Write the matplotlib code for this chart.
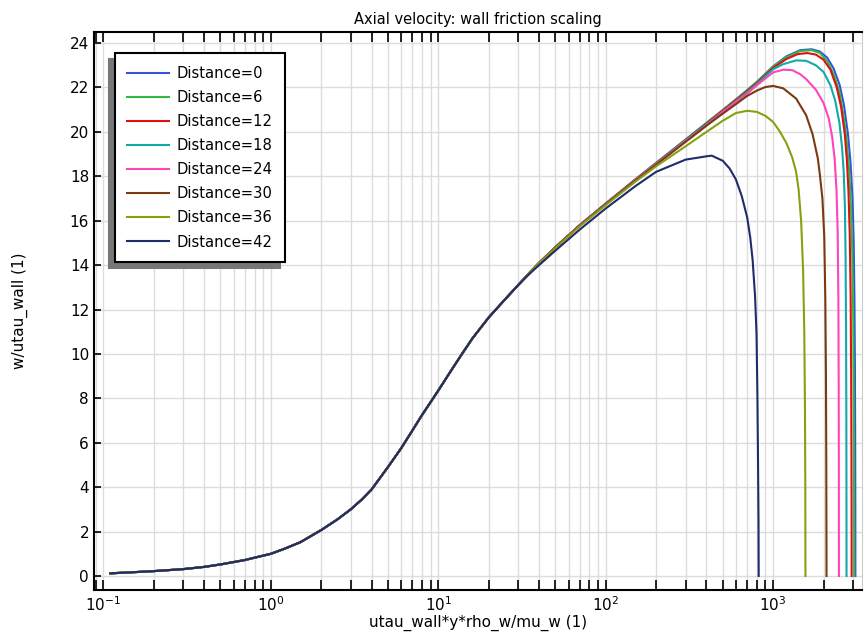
import matplotlib
matplotlib.use("Agg")
import matplotlib.pyplot as plt
from matplotlib.ticker import LogLocator, NullFormatter

# shared near-wall part of all profiles
x_base = [0.11, 0.15, 0.2, 0.3, 0.4, 0.5, 0.7, 1.0, 1.2, 1.5, 2.0, 2.5, 3.0, 3.5, 4.0, 5.0, 6.0, 7.0, 8.0,
          10, 12, 14, 16, 20, 25, 30]
y_base = [0.12, 0.17, 0.22, 0.31, 0.41, 0.52, 0.72, 1.0, 1.22, 1.52, 2.07, 2.55, 3.0, 3.45, 3.9, 4.9, 5.75, 6.55, 7.25,
          8.35, 9.28, 10.05, 10.7, 11.64, 12.45, 13.1]

labels = ["Distance=0", "Distance=6", "Distance=12", "Distance=18",
          "Distance=24", "Distance=30", "Distance=36", "Distance=42"]
colors = ["#3355dd", "#33b844", "#dd1111", "#11aaaa",
          "#ff44bb", "#7a3a10", "#88a010", "#1d2d6b"]

# outer parts of each profile
x_tail = [
    [35, 40, 50, 70, 100, 150, 200, 300, 400, 500, 600, 700, 800, 1000, 1200, 1450, 1700, 1900, 2100, 2300, 2500,
     2650, 2800, 2900, 2980, 3030, 3060, 3080, 3092, 3098, 3100],
    [35, 40, 50, 70, 100, 150, 200, 300, 400, 500, 600, 700, 800, 1000, 1200, 1450, 1700, 1900, 2100, 2300, 2490,
     2650, 2750, 2850, 2920, 2970, 3010, 3032, 3043, 3048, 3050],
    [35, 40, 50, 70, 100, 150, 200, 300, 400, 500, 600, 700, 800, 1000, 1200, 1400, 1600, 1800, 2000, 2200, 2400,
     2550, 2680, 2760, 2820, 2870, 2905, 2925, 2937, 2943, 2945],
    [35, 40, 50, 70, 100, 150, 200, 300, 400, 500, 600, 700, 800, 1000, 1150, 1372, 1575, 1800, 2000, 2200, 2350,
     2490, 2580, 2640, 2685, 2710, 2727, 2737, 2742, 2745],
    [35, 40, 50, 70, 100, 150, 200, 300, 400, 500, 600, 700, 800, 1000, 1150, 1300, 1450, 1575, 1800, 2000, 2150,
     2250, 2330, 2390, 2430, 2453, 2465, 2470, 2472],
    [35, 40, 50, 70, 100, 150, 200, 300, 400, 500, 600, 700, 800, 900, 1000, 1150, 1372, 1575, 1720, 1850, 1900,
     1970, 2020, 2050, 2068, 2078, 2085],
    [35, 40, 50, 70, 100, 150, 200, 300, 400, 500, 600, 700, 800, 900, 1000, 1100, 1200, 1300, 1372, 1420, 1470,
     1510, 1535, 1550, 1557, 1560],
    [35, 40, 50, 70, 100, 150, 200, 300, 400, 430, 500, 550, 600, 650, 700, 730, 755, 780, 796, 806, 813, 818, 820],
]
y_tail = [
    [13.65, 14.1, 14.8, 15.8, 16.77, 17.85, 18.6, 19.65, 20.4, 20.98, 21.46, 21.88, 22.25, 22.95, 23.4, 23.68,
     23.72, 23.62, 23.35, 22.85, 22.1, 21.2, 19.9, 18.6, 17.0, 15.0, 12.5, 9.5, 6.0, 3.0, 0.0],
    [13.65, 14.1, 14.8, 15.8, 16.77, 17.85, 18.6, 19.65, 20.4, 20.98, 21.46, 21.88, 22.25, 22.93, 23.36, 23.64,
     23.68, 23.55, 23.2, 22.6, 21.8, 20.6, 19.6, 18.2, 16.6, 14.5, 11.5, 8.0, 4.5, 2.0, 0.0],
    [13.65, 14.1, 14.8, 15.8, 16.76, 17.84, 18.58, 19.63, 20.37, 20.95, 21.43, 21.84, 22.2, 22.88, 23.28, 23.5,
     23.55, 23.48, 23.25, 22.8, 22.0, 21.1, 19.9, 18.7, 17.3, 15.3, 12.5, 9.0, 5.5, 2.5, 0.0],
    [13.65, 14.1, 14.8, 15.8, 16.76, 17.83, 18.57, 19.61, 20.34, 20.9, 21.38, 21.78, 22.15, 22.82, 23.05, 23.22,
     23.2, 23.0, 22.7, 22.1, 21.4, 20.4, 19.3, 18.2, 16.6, 14.3, 11.0, 7.5, 4.0, 0.0],
    [13.65, 14.1, 14.8, 15.8, 16.75, 17.82, 18.55, 19.58, 20.3, 20.9, 21.35, 21.72, 22.1, 22.68, 22.8, 22.78,
     22.6, 22.38, 21.9, 21.3, 20.6, 19.8, 18.8, 17.4, 15.5, 12.5, 8.5, 4.5, 0.0],
    [13.65, 14.1, 14.8, 15.78, 16.74, 17.8, 18.52, 19.55, 20.28, 20.82, 21.25, 21.62, 21.86, 22.02, 22.07, 21.96,
     21.5, 20.75, 19.9, 18.8, 18.1, 17.0, 15.3, 12.5, 9.0, 5.0, 0.0],
    [13.64, 14.08, 14.77, 15.75, 16.7, 17.75, 18.45, 19.35, 20.0, 20.5, 20.85, 20.95, 20.9, 20.72, 20.45, 20.0,
     19.5, 18.85, 18.2, 17.4, 16.0, 13.8, 11.0, 7.5, 4.0, 0.0],
    [13.6, 14.0, 14.65, 15.6, 16.55, 17.55, 18.2, 18.75, 18.9, 18.93, 18.7, 18.35, 17.85, 17.1, 16.15, 15.25,
     14.2, 12.6, 10.9, 8.0, 5.0, 2.5, 0.0],
]

plt.rcParams['font.family'] = ['DejaVu Sans']
fig = plt.figure(figsize=(8.66, 6.39), dpi=100)
ax = fig.add_axes([0.1085, 0.0767, 0.8865, 0.8733])

for i in range(len(labels)):
    ax.plot(x_base + x_tail[i], y_base + y_tail[i], color=colors[i], lw=1.5, label=labels[i])

ax.set_xscale('log')
ax.set_xlim(0.0878, 3380)
ax.set_ylim(-0.63, 24.5)
ax.set_yticks(range(0, 25, 2))
ax.xaxis.set_minor_locator(LogLocator(base=10, subs=range(2, 10), numticks=20))
ax.xaxis.set_minor_formatter(NullFormatter())

ax.grid(True, which='major', color='#dcdcdc', lw=1)
ax.grid(True, which='minor', axis='x', color='#dcdcdc', lw=1)
ax.set_axisbelow(True)

ax.tick_params(which='both', direction='in', top=True, right=False, labelsize=11, width=1.2, color='black')
ax.tick_params(axis='x', which='major', length=7)
ax.tick_params(axis='x', which='minor', length=7)
ax.tick_params(axis='y', which='major', length=5)
for s in ax.spines.values():
    s.set_linewidth(1.5)
ax.spines['right'].set_linewidth(0.8)
ax.spines['right'].set_color('#cccccc')

ax.set_title('Axial velocity: wall friction scaling', fontsize=10.5, pad=6)
ax.set_xlabel('utau_wall*y*rho_w/mu_w (1)', fontsize=11, labelpad=1)
ax.set_ylabel('w/utau_wall (1)', fontsize=11, labelpad=30)

leg = ax.legend(loc='upper left', bbox_to_anchor=(0.0273, 0.962), borderaxespad=0, fontsize=10.6,
                handlelength=2.8, labelspacing=0.62, borderpad=0.85, handletextpad=0.55,
                fancybox=False, framealpha=1, edgecolor='black',
                shadow={'ox': -4, 'oy': -4, 'color': '#777777', 'alpha': 1})
leg.get_frame().set_linewidth(1.5)

plt.savefig('out.png', dpi=100)
